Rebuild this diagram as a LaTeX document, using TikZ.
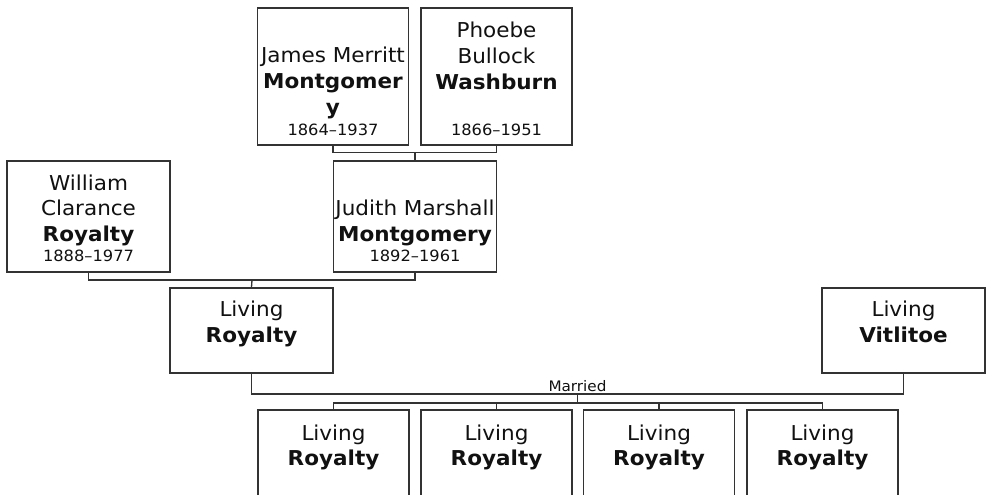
\documentclass[tikz,border=0pt]{standalone}
\usepackage{fontspec}
\setmainfont[FakeStretch=1.05]{DejaVu Sans}
\usetikzlibrary{positioning}
\definecolor{boxline}{HTML}{333333}
\definecolor{ink}{HTML}{111111}

\begin{document}
\begin{tikzpicture}[x=1pt, y=-1pt,
  person/.style={draw=boxline, fill=white, line width=1.3pt, inner sep=0pt,
                 minimum width=151pt, minimum height=137pt},
  wide/.style={minimum width=163pt, minimum height=111pt},
  low/.style={minimum width=163pt, minimum height=85pt},
  kid/.style={minimum width=151pt, minimum height=100pt},
  nametext/.style={text width=220pt, align=center, inner sep=0pt, anchor=base,
                   text=ink, font=\fontsize{20.5}{25.8}\selectfont},
  yeartext/.style={inner sep=0pt, anchor=base, text=ink,
                   font=\fontsize{15.5}{18}\selectfont},
  link/.style={draw=boxline, line width=1.3pt}
]
  \useasboundingbox (0,0) rectangle (988,495);
  \clip (0,0) rectangle (988,495);

  % grandparents
  \node[person] (james) at (333,76.5) {};
  \node[person] (phoebe) at (496.5,76.5) {};
  \node[person, wide] (william) at (88.5,216.5) {};
  \node[person, wide] (judith) at (415,216.5) {};

  % parents
  \node[person, low] (parent) at (251.5,330.5) {};
  \node[person, low] (spouse) at (903.5,330.5) {};

  % children
  \foreach \x [count=\i] in {333.5,496.5,659,822.5}
    \node[person, kid] (kid\i) at (\x,460) {};

  % texts
  \node[nametext] (jamesname) at (333,63) {James Merritt\\\textbf{Montgomer}\\\textbf{y}};
  \node[yeartext] (jamesyears) at (333,135) {1864--1937};
  \node[nametext] (phoebename) at (496.5,37.7) {Phoebe\\Bullock\\\textbf{Washburn}};
  \node[yeartext] (phoebeyears) at (496.5,135) {1866--1951};
  \node[nametext] (williamname) at (88.5,190) {William\\Clarance\\\textbf{Royalty}};
  \node[yeartext] (williamyears) at (88.5,261.7) {1888--1977};
  \node[nametext] (judithname) at (415,215.7) {Judith Marshall\\\textbf{Montgomery}};
  \node[yeartext] (judithyears) at (415,261.7) {1892--1961};
  \node[nametext] (parentname) at (251.5,316.7) {Living\\\textbf{Royalty}};
  \node[nametext] (spousename) at (903.5,316.7) {Living\\\textbf{Vitlitoe}};
  \foreach \i in {1,...,4}
    \node[nametext] (kidname\i) at (kid\i.north |- 0,440) {Living\\\textbf{Royalty}};

  % connectors
  \coordinate (tj) at (415,152.5);
  \coordinate (pj) at (252,280);
  \coordinate (mj) at (577.5,394);
  \coordinate (cj) at (577.5,403);
  \draw[link] (james.south) |- (tj) -| (phoebe.south);
  \draw[link] (tj) -- (judith.north);
  \draw[link] (william.south) |- (pj) -| (judith.south);
  \draw[link] (pj) -- (parent.north);
  \draw[link] (parent.south) |- (mj) -| (spouse.south);
  \node[yeartext, font=\fontsize{14.5}{18}\selectfont] (married) at (577.5,391) {Married};
  \draw[link] (mj) -- (cj);
  \draw[link] (kid1.north) |- (cj) -| (kid4.north);
  \draw[link] (kid2.north) -- (kid2.north |- cj);
  \draw[link] (kid3.north) -- (kid3.north |- cj);

\end{tikzpicture}
\end{document}
